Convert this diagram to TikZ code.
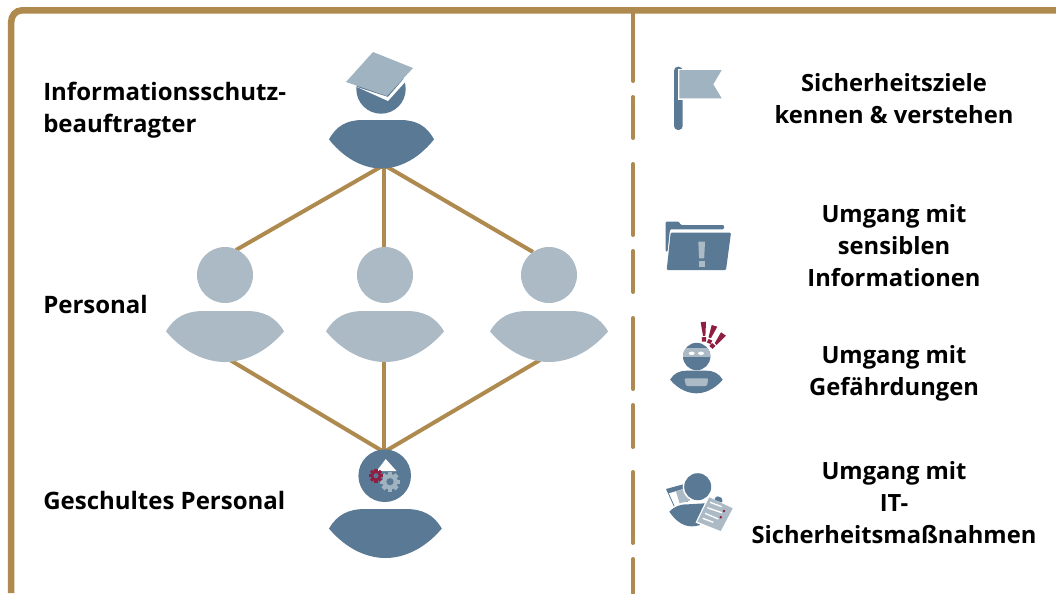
\documentclass[tikz,border=0pt]{standalone}
\usepackage{fontspec}
\setmainfont{Open Sans}
\definecolor{gold}{HTML}{AE8A4F}
\definecolor{navy}{HTML}{5A7995}
\definecolor{pale}{HTML}{ABBAC5}
\definecolor{wine}{HTML}{8E1F42}
\definecolor{capc}{HTML}{A0B3C1}
\tikzset{
  x=0.75pt,y=-0.75pt,
  link/.style={gold,line width=3pt},
  frame/.style={gold,line width=4.9pt},
  lbl/.style={font=\bfseries\fontsize{17.8}{24}\selectfont,align=center,inner sep=0pt,text=black},
  lbll/.style={font=\bfseries\fontsize{18}{24}\selectfont,align=left,inner sep=0pt,anchor=west,text=black},
}
% person body: centre x, top y, half-width, height, colour
\newcommand{\pbody}[5]{%
  \fill[#5] (#1-#3,#2+0.40*#4) .. controls (#1-0.86*#3,#2+0.12*#4) and (#1-0.66*#3,#2) .. (#1-0.36*#3,#2)
   -- (#1+0.36*#3,#2) .. controls (#1+0.66*#3,#2) and (#1+0.86*#3,#2+0.12*#4) .. (#1+#3,#2+0.40*#4)
   .. controls (#1+0.66*#3,#2+0.86*#4) and (#1+0.28*#3,#2+#4) .. (#1,#2+#4)
   .. controls (#1-0.28*#3,#2+#4) and (#1-0.66*#3,#2+0.86*#4) .. (#1-#3,#2+0.40*#4) -- cycle;}
% gear
\newcommand{\gearshape}[5]{%
  \fill[#4] (#1,#2) circle[radius=#3*0.78];
  \foreach \a in {0,45,...,315}{\fill[#4,rotate around={\a:(#1,#2)}] (#1-#3*0.22,#2-#3) rectangle (#1+#3*0.22,#2-#3*0.6);}
  \fill[#5] (#1,#2) circle[radius=#3*0.36];}
\begin{document}
\begin{tikzpicture}
\useasboundingbox (0,0) rectangle (1056,593);
\fill[white] (0,0) rectangle (1056,593);
% frame
\draw[frame] (11.2,593) -- (11.2,22) to[out=90,in=180] (22,10.3) -- (1056,10.3);
% dashed divider
\foreach \p/\q in {13/81,97/138,164/235,251/292,318/389,405/447,472/543,559/593}{
 \draw[gold,line width=3pt,line cap=round] (633,\p) -- (633,\q);}
% connectors
\coordinate (top) at (384,165);
\coordinate (bot) at (384,452);
\coordinate (p1t) at (236,250);
\coordinate (p2t) at (384,247);
\coordinate (p3t) at (533,252);
\coordinate (p1b) at (230,360);
\coordinate (p2b) at (384,360);
\coordinate (p3b) at (540,360);
\foreach \c in {p1t,p2t,p3t}{\draw[link] (top) -- (\c);}
\foreach \c in {p1b,p2b,p3b}{\draw[link] (\c) -- (bot);}
% top person
\fill[navy] (381,89) circle[radius=24.7];
\pbody{381.5}{120}{52.5}{48.5}{navy}
\fill[white] (346,82) -- (360,88) -- (388,97) -- (413,68) -- (416,70) -- (388,101) -- cycle;
\fill[capc] (346,82) -- (373,52) -- (413,68) -- (387,96) -- cycle;
% mid
\foreach \x in {225,385,549}{
 \fill[pale] (\x,275) circle[radius=28];
 \pbody{\x}{311}{59}{51}{pale}
}
% bottom person
\fill[navy] (384.7,475.7) circle[radius=26.3];
\fill[white] (376.7,471) -- (385.7,459) -- (396.5,471) -- cycle;
\pbody{385.4}{509}{56.4}{49}{navy}
\gearshape{390}{481.7}{10}{capc}{navy}
\gearshape{376}{475.7}{7}{wine}{navy}
% flag
\fill[navy,rounded corners=3pt] (674,66.7) rectangle (682.7,130);
\fill[white] (677.5,68.5) -- (723,68.5) -- (723,100) -- (677.5,100) -- cycle;
\fill[capc] (679.3,70) -- (721.7,70) -- (713.3,84.3) -- (721.7,98.3) -- (679.3,98.3) -- cycle;
% folder
\fill[navy,rounded corners=0.8pt] (665.7,221.7) -- (679,221.7) -- (680.7,225) -- (724,225) -- (724,229.3) -- (670,229.3) -- (667.5,251.7) -- (665.7,251.7) -- cycle;
\fill[navy,rounded corners=0.8pt] (670.7,232.7) -- (731,232.7) -- (726,270) -- (666.7,270) -- cycle;
\fill[pale] (698.3,241.7) -- (705,241.7) -- (704.2,258.3) -- (699.1,258.3) -- cycle;
\fill[pale] (698.8,260.7) rectangle (704.6,267.3);
% ninja person
\fill[navy] (696.7,356.5) circle[radius=13.7];
\begin{scope}
 \clip (696.7,356.5) circle[radius=13.7];
 \fill[pale] (680,348.3) rectangle (712,357);
\end{scope}
\fill[white] (691.7,353.3) ellipse[x radius=3,y radius=1.7];
\fill[white] (701,353.3) ellipse[x radius=3,y radius=1.7];
\pbody{696.4}{370.7}{26.3}{22.6}{navy}
\fill[pale,rounded corners=1pt] (684.3,378.3) -- (708.3,378.3) -- (707,386) -- (686,386) -- cycle;
\fill[wine] (700.7,322.3) -- (706,321.7) -- (705.4,335.7) -- (703,336) -- cycle;
\fill[wine] (701.7,337.3) -- (706,337) -- (706,341.5) -- (702,341.7) -- cycle;
\fill[wine] (711.7,325) -- (717.3,326.7) -- (711,338) -- (708.5,337.5) -- cycle;
\fill[wine] (708.5,339) -- (712.3,340.5) -- (710.5,344) -- (706.8,342.5) -- cycle;
\fill[wine] (721,332.3) -- (726,335.7) -- (716.5,345) -- (714.8,343) -- cycle;
\fill[wine] (712,343) -- (715.5,345.8) -- (712.5,348.8) -- (709.3,346) -- cycle;
% IT person
\fill[navy] (666,489) -- (683.3,484.3) -- (690,500) -- (675,509) -- cycle;
\fill[white] (669,493.3) -- (683.3,489) -- (689.3,500) -- (675,506.7) -- cycle;
\fill[pale] (676,491.5) -- (683.3,489) -- (689.3,500) -- (680,504.5) -- cycle;
\fill[white] (697.7,486.7) circle[radius=15];
\fill[navy] (697.7,486.7) circle[radius=13.5];
\fill[white] (667,513) .. controls (674,505) and (680,502) .. (688,502) -- (708,501.5) -- (708,529) -- (690,529) -- cycle;
\fill[navy] (669.3,511.7) .. controls (675,506) and (680,504.3) .. (688,504.3) -- (705,503.3) -- (700,525) .. controls (690,528) and (680,527) .. (669.3,511.7) -- cycle;
\fill[white] (708.6,495.5) -- (734.5,507.8) -- (721.4,533) -- (695.5,522.6) -- cycle;
\fill[pale] (709.3,497.3) -- (732.7,508.3) -- (720.7,531) -- (697.3,521.7) -- cycle;
\fill[navy,rounded corners=0.8pt] (714,499.5) -- (717,496) -- (722,498) -- (722.5,502.8) -- cycle;
\foreach \a/\b/\c/\d in {710/502.3/721.7/506.7,707.3/507.7/721.7/512.7,705/513.3/718.3/519,702.7/518.3/713.3/522.3}{
  \draw[white,line width=1pt] (\a,\b) -- (\c,\d);}
\fill[wine] (724,511) circle[radius=1.4];
\fill[wine] (720.7,517.3) circle[radius=1.4];
% left labels
\node[lbll] (a) at (43,110.5) {Informationsschutz-\\beauftragter};
\node[lbll] (b) at (43,304.5) {Personal};
\node[lbll] (c) at (43,500.5) {Geschultes Personal};
% right labels
\node[lbl] (d) at (894,99) {Sicherheitsziele\\kennen \& verstehen};
\node[lbl] (e) at (894,246) {Umgang mit\\sensiblen\\Informationen};
\node[lbl] (f) at (894,373) {Umgang mit\\Gefährdungen};
\node[lbl] (g) at (894,502.5) {Umgang mit\\IT-\\Sicherheitsmaßnahmen};
\end{tikzpicture}
\end{document}
